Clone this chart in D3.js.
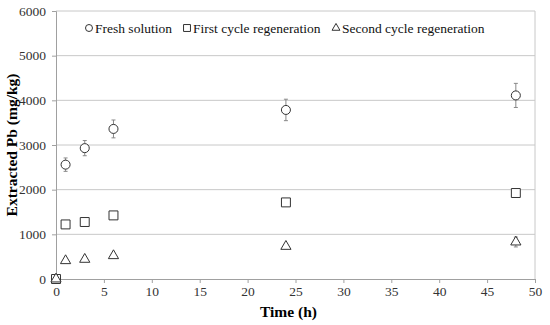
<!DOCTYPE html>
<html>
<head>
<meta charset="utf-8">
<script src="https://cdn.jsdelivr.net/npm/d3@7"></script>
<style>
  body { margin: 0; background: #fff; }
</style>
</head>
<body>
<script>
"use strict";

// time points (h) and extracted Pb (mg/kg) per series
var times = [0, 1, 3, 6, 24, 48];
var fresh = [0, 2560, 2930, 3360, 3785, 4110];
var freshErr = [0, 150, 170, 200, 240, 270];
var first = [0, 1222, 1276, 1424, 1715, 1925];
var firstErr = [0, 40, 40, 40, 60, 80];
var second = [0, 410, 440, 522, 730, 828];
var secondErr = [0, 30, 30, 30, 50, 110];
var seriesNames = ["Fresh solution", "First cycle regeneration", "Second cycle regeneration"];
var xTicks = [0, 5, 10, 15, 20, 25, 30, 35, 40, 45, 50];
var yTicks = [0, 1000, 2000, 3000, 4000, 5000, 6000];

var serif = "Liberation Serif";

var margin = {top: 11, right: 15, bottom: 46, left: 56},
    width = 550 - margin.left - margin.right,
    height = 325 - margin.top - margin.bottom;

var svg = d3.select("body").append("svg")
    .attr("width", 550)
    .attr("height", 325)
    .attr("font-family", serif);
var view = svg.append("g")
    .attr("transform", "translate(" + margin.left + "," + margin.top + ")");

var xScale = d3.scaleLinear().domain([0, 50]).range([0, width]);
var yScale = d3.scaleLinear().domain([0, 6000]).range([height, 0]);

// gridlines
view.append("g")
    .selectAll("line")
    .data(yTicks.filter(function(d) { return d > 0; }))
    .enter().append("line")
    .attr("x1", 0).attr("x2", width)
    .attr("y1", function(d) { return yScale(d); })
    .attr("y2", function(d) { return yScale(d); })
    .attr("stroke", "#c8c8c8").attr("stroke-width", 1);

// right border of plot area
view.append("line")
    .attr("x1", width).attr("x2", width)
    .attr("y1", 0).attr("y2", height)
    .attr("stroke", "#c8c8c8");

// axes
var xAxis = d3.axisBottom(xScale).tickValues(xTicks).tickFormat(d3.format("d"))
    .tickSize(4).tickPadding(3);
var yAxis = d3.axisLeft(yScale).tickValues(yTicks).tickFormat(d3.format("d"))
    .tickSize(4).tickPadding(6);

var gX = view.append("g")
    .attr("transform", "translate(0," + height + ")")
    .call(xAxis);
var gY = view.append("g").call(yAxis);

[gX, gY].forEach(function(g) {
  g.attr("font-family", serif).attr("font-size", 13.5);
  g.select(".domain").attr("stroke", "#a0a0a0");
  g.selectAll(".tick line").attr("stroke", "#a0a0a0");
  g.selectAll(".tick text").attr("fill", "#333");
});

// axis titles
svg.append("text")
    .attr("x", margin.left + width / 2 - 7)
    .attr("y", 317)
    .attr("text-anchor", "middle")
    .attr("font-size", 15.5)
    .attr("font-weight", "bold")
    .text("Time (h)");

svg.append("text")
    .attr("transform", "translate(17," + (margin.top + height / 2) + ") rotate(-90)")
    .attr("text-anchor", "middle")
    .attr("font-size", 15.5)
    .attr("font-weight", "bold")
    .text("Extracted Pb (mg/kg)");

// marker helpers
var circleSym = d3.symbol().type(d3.symbolCircle);
var squareSym = d3.symbol().type(d3.symbolSquare);
var triSym = d3.symbol().type(d3.symbolTriangle);

var series = [
  {name: seriesNames[0], values: fresh, err: freshErr, sym: circleSym, size: 64},
  {name: seriesNames[1], values: first, err: firstErr, sym: squareSym, size: 80},
  {name: seriesNames[2], values: second, err: secondErr, sym: triSym, size: 45}
];

series.forEach(function(s) {
  var pts = times.map(function(t, i) { return {t: t, v: s.values[i], e: s.err[i]}; });
  var g = view.append("g");

  // error bars
  var eb = g.selectAll(".eb").data(pts.filter(function(d) { return d.e > 0; }))
      .enter().append("g").attr("class", "eb");
  eb.append("line")
      .attr("x1", function(d) { return xScale(d.t); })
      .attr("x2", function(d) { return xScale(d.t); })
      .attr("y1", function(d) { return yScale(d.v + d.e); })
      .attr("y2", function(d) { return yScale(d.v - d.e); })
      .attr("stroke", "#888");
  [1, -1].forEach(function(sign) {
    eb.append("line")
        .attr("x1", function(d) { return xScale(d.t) - 2; })
        .attr("x2", function(d) { return xScale(d.t) + 2; })
        .attr("y1", function(d) { return yScale(d.v + sign * d.e); })
        .attr("y2", function(d) { return yScale(d.v + sign * d.e); })
        .attr("stroke", "#888");
  });

  g.selectAll(".pt").data(pts)
      .enter().append("path")
      .attr("class", "pt")
      .attr("d", s.sym.size(s.size))
      .attr("transform", function(d) {
        return "translate(" + xScale(d.t) + "," + yScale(d.v) + ")";
      })
      .attr("fill", "#fff")
      .attr("stroke", "#333")
      .attr("stroke-width", 1);
});

// legend
var legendX = [89, 187, 336];
var legend = svg.append("g");
series.forEach(function(s, i) {
  legend.append("path")
      .attr("d", s.sym.size(s.size * 0.6))
      .attr("transform", "translate(" + legendX[i] + ",28)")
      .attr("fill", "#fff")
      .attr("stroke", "#333");
  legend.append("text")
      .attr("x", legendX[i] + 6)
      .attr("y", 32.5)
      .attr("font-size", 13.5)
      .attr("fill", "#111")
      .text(s.name);
});
</script>
</body>
</html>
